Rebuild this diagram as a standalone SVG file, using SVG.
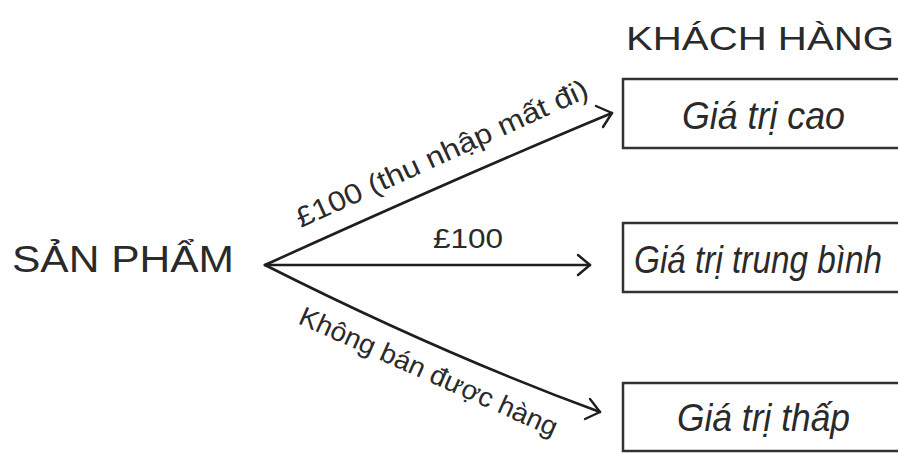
<svg xmlns="http://www.w3.org/2000/svg" width="898" height="454" viewBox="0 0 898 454">
  <style>
    .hand { font-family: "Liberation Sans", "DejaVu Sans", sans-serif; fill: #2a2a2a; }
    .cursive { font-family: "Liberation Sans", "DejaVu Sans", sans-serif; font-style: italic; fill: #2a2a2a; }
    .box { fill: #ffffff; stroke: #333333; stroke-width: 2.5; }
    .link { fill: none; stroke: #1e1e1e; stroke-width: 2.6; stroke-linecap: round; }
    .head { fill: none; stroke: #1e1e1e; stroke-width: 2.4; stroke-linecap: round; stroke-linejoin: round; }
  </style>
  <rect width="898" height="454" fill="#ffffff"/>

  <!-- source -->
  <g id="san-pham">
    <text class="hand" x="12" y="272" font-size="36" textLength="222" lengthAdjust="spacingAndGlyphs">SẢN PHẨM</text>
  </g>

  <!-- customers heading -->
  <g id="khach-hang">
    <text class="hand" x="626" y="50" font-size="34" textLength="268" lengthAdjust="spacingAndGlyphs">KHÁCH HÀNG</text>
  </g>

  <g id="gia-tri-cao">
    <rect class="box" x="623" y="79" width="290" height="69"/>
    <text class="cursive" x="682" y="129" font-size="38" textLength="163" lengthAdjust="spacingAndGlyphs">Giá trị cao</text>
  </g>

  <g id="gia-tri-trung-binh">
    <rect class="box" x="623" y="223" width="290" height="69"/>
    <text class="cursive" x="634" y="273" font-size="38" textLength="248" lengthAdjust="spacingAndGlyphs">Giá trị trung bình</text>
  </g>

  <g id="gia-tri-thap">
    <rect class="box" x="623" y="383" width="290" height="68"/>
    <text class="cursive" x="677" y="431" font-size="38" textLength="173" lengthAdjust="spacingAndGlyphs">Giá trị thấp</text>
  </g>

  <!-- connectors -->
  <g id="connectors">
    <path class="link" d="M265,265 C360,222 470,172 612,113"/>
    <path class="head" d="M596,106 L612,113 L603,127"/>
    <text class="hand" transform="translate(301,228) rotate(-24.5)" font-size="28" textLength="318" lengthAdjust="spacingAndGlyphs">£100 (thu nhập mất đi)</text>

    <path class="link" d="M265,265 L590,265"/>
    <path class="head" d="M578,255 L590,265 L578,275"/>
    <text class="hand" x="433" y="248" font-size="28" textLength="70" lengthAdjust="spacingAndGlyphs">£100</text>

    <path class="link" d="M265,265 C370,318 480,368 600,412"/>
    <path class="head" d="M590,399 L600,412 L585,419"/>
    <text class="hand" transform="translate(297,323) rotate(24)" font-size="27" textLength="280" lengthAdjust="spacingAndGlyphs">Không bán được hàng</text>
  </g>
</svg>
